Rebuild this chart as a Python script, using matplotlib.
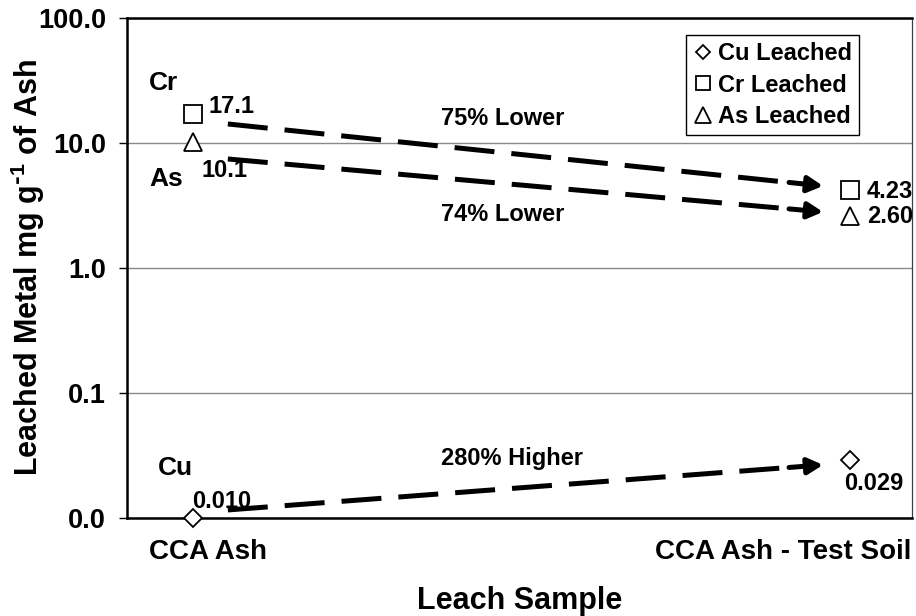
import numpy as np
import matplotlib
matplotlib.use("Agg")
import matplotlib.pyplot as plt
from matplotlib.ticker import FuncFormatter, FixedLocator
from matplotlib.transforms import ScaledTranslation

plt.rcParams['font.family'] = ['Liberation Sans', 'DejaVu Sans']
plt.rcParams['font.weight'] = 'bold'

# Leach samples (category positions 1 and 2)
samples = ["CCA Ash", "CCA Ash - Test Soil"]
sample_pos = [1, 2]

# Leached metal, mg per g of ash
cu_leached = [0.010, 0.029]
cr_leached = [17.1, 4.23]
as_leached = [10.1, 2.60]

# Value label formats per sample
cu_formats = ["{:.3f}", "{:.3f}"]
cr_formats = ["{:.1f}", "{:.2f}"]
as_formats = ["{:.1f}", "{:.2f}"]

# Change between samples
change_labels = {"Cr": "75% Lower", "As": "74% Lower", "Cu": "280% Higher"}

y_ticks = [0.01, 0.1, 1, 10, 100]

fig = plt.figure(figsize=(9.16, 6.16), dpi=100)
ax = fig.add_axes([127 / 916, 98 / 616, 785 / 916, 500 / 616])
ax.set_yscale("log")
ax.set_ylim(0.01, 100)
ax.set_xlim(0.8995, 2.0944)

# horizontal grid
ax.yaxis.set_major_locator(FixedLocator(y_ticks))
ax.yaxis.set_minor_locator(FixedLocator([]))
ax.yaxis.set_major_formatter(FuncFormatter(lambda v, p: f"{v:.1f}"))
ax.grid(axis="y", color="#8a8a8a", lw=1.0)
ax.set_axisbelow(True)

for side in ["left", "bottom", "top"]:
    ax.spines[side].set_linewidth(1.8)
    ax.spines[side].set_color("black")
ax.spines["right"].set_linewidth(0.9)
ax.spines["right"].set_color("#404040")

ax.tick_params(axis="y", which="major", length=6, width=1, pad=9,
               labelsize=19.5, direction="out")
ax.tick_params(axis="x", length=0, pad=15, labelsize=20)
ax.set_xticks(sample_pos)
ax.set_xticklabels(samples, fontweight="bold")
for lab, dx in zip(ax.get_xticklabels(), [0.15, -0.67]):
    lab.set_transform(lab.get_transform() + ScaledTranslation(dx, 0, fig.dpi_scale_trans))
for lab in ax.get_yticklabels():
    lab.set_fontweight("bold")

ax.text(0.5, -0.166, "Leach Sample", transform=ax.transAxes, ha="center",
        va="center", fontsize=22, fontweight="bold")
ax.text(-0.126, 0.5, r"Leached Metal mg g$\mathregular{^{\text{-}1}}$ of Ash",
        transform=ax.transAxes, ha="center", va="center", rotation=90,
        fontsize=22, fontweight="bold")

# dashed trend arrows between the two samples
arrow_x = (1.053, 1.959)
arrow_y = {"Cr": (14.2, 4.53), "As": (7.45, 2.81), "Cu": (0.0116, 0.0266)}
for key, (y0, y1) in arrow_y.items():
    t = 1 - 34 / 595
    xs = arrow_x[0] + t * (arrow_x[1] - arrow_x[0])
    ys = 10 ** (np.log10(y0) + t * (np.log10(y1) - np.log10(y0)))
    ax.plot([arrow_x[0], xs], [y0, ys], color="black", lw=3.6,
            dashes=(8, 3.4), solid_capstyle="butt", zorder=3)
    ax.annotate("", xy=(arrow_x[1], y1), xytext=(xs, ys),
                arrowprops=dict(arrowstyle="-|>,head_length=0.45,head_width=0.24",
                                mutation_scale=20, lw=3.6, color="black",
                                shrinkA=0, shrinkB=0), zorder=3)

mk = dict(ls="none", mfc="white", mec="black", mew=1.3, zorder=5, clip_on=False)
ax.plot(sample_pos, cu_leached, marker="D", ms=8.8, label="Cu Leached", **mk)
ax.plot(sample_pos, cr_leached, marker="s", ms=12.5, label="Cr Leached", **mk)
ax.plot(sample_pos, as_leached, marker="^", ms=13, label="As Leached", **mk)

# value labels
val_fs = 17
value_offsets = {
    "Cr": [((28, 0.6), "center"), ((12.2, -5.9), "left")],
    "As": [((23, -24.6), "center"), ((12.2, -5.0), "left")],
    "Cu": [((20.9, 7), "center"), ((17.3, -21.6), "center")],
}
series = {"Cr": (cr_leached, cr_formats), "As": (as_leached, as_formats),
          "Cu": (cu_leached, cu_formats)}
for key, (vals, fmts) in series.items():
    for x, v, fmt, (off, ha) in zip(sample_pos, vals, fmts, value_offsets[key]):
        ax.annotate(fmt.format(v), xy=(x, v), xytext=off, textcoords="offset points",
                    ha=ha, va="baseline", fontsize=val_fs, fontweight="bold")

# element names beside the first sample
name_offsets = {"Cr": (-20.9, 17.3), "As": (-19.4, -31), "Cu": (-13, 31)}
for key, off in name_offsets.items():
    ax.annotate(key, xy=(sample_pos[0], series[key][0][0]), xytext=off,
                textcoords="offset points", ha="center", va="baseline",
                fontsize=19, fontweight="bold")

# percentage change labels
change_pos = {"Cr": (1.472, 13.9), "As": (1.472, 2.38), "Cu": (1.4856, 0.02655)}
for key, (x, y) in change_pos.items():
    ax.text(x, y, change_labels[key], ha="center", va="baseline",
            fontsize=17, fontweight="bold")

leg = ax.legend(loc="upper right", bbox_to_anchor=(0.9325, 0.966), borderaxespad=0,
                fancybox=False, framealpha=1, edgecolor="black",
                prop=dict(size=17, weight="bold"), markerscale=0.85,
                handlelength=0.8, handletextpad=0.25, labelspacing=0.36,
                borderpad=0.3)
leg.get_frame().set_linewidth(1.0)

fig.savefig("out.png", dpi=100)
